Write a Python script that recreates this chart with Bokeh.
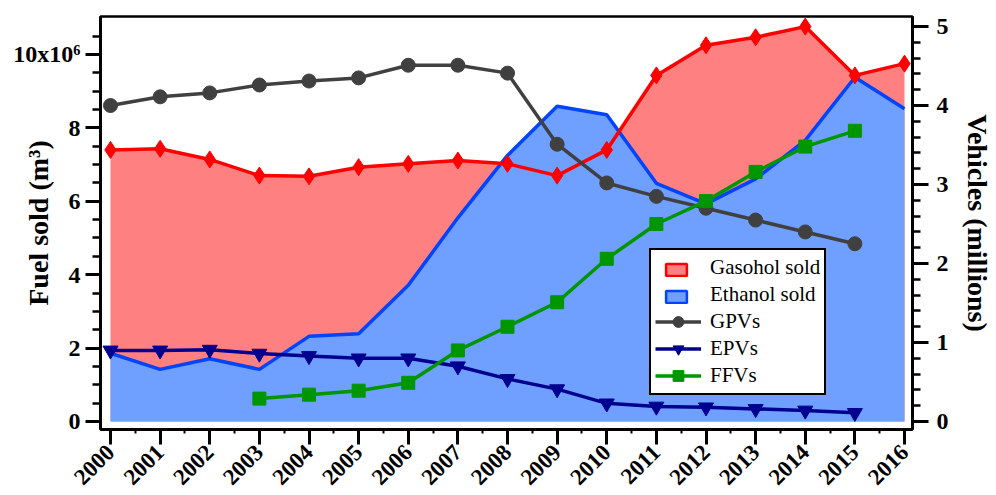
import math
from bokeh.plotting import figure
from bokeh.models import (Range1d, LinearAxis, FixedTicker, Legend, LegendItem,
                          ColumnDataSource)
from bokeh.embed import file_html
from bokeh.resources import INLINE
from bokeh.core.properties import value

# ---------------- data ----------------
years = list(range(2000, 2017))
# fuel sold, in millions of m3 (axis reads x10^6)
gasohol = [7.40, 7.43, 7.14, 6.70, 6.68, 6.93, 7.02, 7.11, 7.02, 6.70,
           7.40, 9.43, 10.25, 10.47, 10.76, 9.43, 9.75]
ethanol = [1.86, 1.42, 1.71, 1.42, 2.32, 2.39, 3.71, 5.55, 7.25, 8.59,
           8.36, 6.49, 5.93, 6.61, 7.66, 9.38, 8.52]

veh_years = list(range(2000, 2016))
# vehicles, millions
gpv = [4.00, 4.11, 4.16, 4.26, 4.31, 4.35, 4.51, 4.51, 4.41, 3.51,
       3.02, 2.85, 2.70, 2.55, 2.40, 2.25]
epv = [0.90, 0.90, 0.91, 0.86, 0.83, 0.80, 0.80, 0.70, 0.54, 0.41,
       0.23, 0.19, 0.18, 0.16, 0.14, 0.11]
ffv_years = list(range(2003, 2016))
ffv = [0.29, 0.34, 0.39, 0.49, 0.90, 1.20, 1.51, 2.06, 2.50, 2.79,
       3.16, 3.48, 3.68]

left_ticks = [0, 2, 4, 6, 8, 10]
right_ticks = [0, 1, 2, 3, 4, 5]

FONT = "Liberation Serif"

# ---------------- figure ----------------
p = figure(width=996, height=495, output_backend="svg", toolbar_location=None,
           x_range=Range1d(1999.7985, 2016.161), y_range=Range1d(-0.218, 11.035),
           min_border_left=100, min_border_right=84, min_border_top=16,
           min_border_bottom=66)
p.extra_y_ranges = {"veh": Range1d(-0.101, 5.127)}
p.xgrid.visible = False
p.ygrid.visible = False
p.outline_line_color = "black"
p.outline_line_width = 2.5
p.outline_line_alpha = 1
p.background_fill_color = "white"
p.border_fill_color = "white"


def style_axis(ax, fs, tick_out=15, minor_out=8):
    ax.axis_line_width = 3
    ax.axis_line_color = "black"
    ax.major_tick_line_width = 3
    ax.minor_tick_line_width = 2.5
    ax.major_tick_in = 0
    ax.major_tick_out = tick_out
    ax.minor_tick_in = 0
    ax.minor_tick_out = minor_out
    ax.major_label_text_font = FONT
    ax.major_label_text_font_style = "bold"
    ax.major_label_text_font_size = fs
    ax.major_label_text_color = "black"


# bottom axis
xax = p.xaxis[0]
xax.ticker = FixedTicker(ticks=years, minor_ticks=[y + 0.5 for y in years[:-1]])
style_axis(xax, "23px", tick_out=15, minor_out=4)
xax.minor_tick_line_width = 2
xax.major_label_orientation = math.pi / 4
xax.major_label_standoff = 4

# left axis (with its title placed close, as in the original)
yax = p.yaxis[0]
yax.ticker = FixedTicker(ticks=left_ticks, minor_ticks=[0.5 * i for i in range(22)])
yax.major_label_overrides = {10: "10x10\u2076"}
style_axis(yax, "24px", tick_out=15, minor_out=8)
yax.major_label_standoff = 5
yax.axis_label = "Fuel sold (m\u00b3)"
yax.axis_label_text_font = FONT
yax.axis_label_text_font_style = "bold"
yax.axis_label_text_font_size = "28px"
yax.axis_label_text_color = "black"
yax.axis_label_standoff = -44

# right axis
rax = LinearAxis(y_range_name="veh",
                 ticker=FixedTicker(ticks=right_ticks, minor_ticks=[0.2 * i for i in range(26)]),
                 axis_label="Vehicles (millions)")
style_axis(rax, "24px", tick_out=16, minor_out=8)
rax.major_label_standoff = 8
rax.axis_label_text_font = FONT
rax.axis_label_text_font_style = "bold"
rax.axis_label_text_font_size = "28px"
rax.axis_label_text_color = "black"
rax.axis_label_standoff = 10
p.add_layout(rax, "right")

# ---------------- glyphs ----------------
src = ColumnDataSource(dict(x=years, gas=gasohol, eth=ethanol, zero=[0] * len(years)))
p.varea(x="x", y1="zero", y2="gas", source=src, fill_color="#ff8080")
p.varea(x="x", y1="zero", y2="eth", source=src, fill_color="#6f9fff")
p.line(x="x", y="eth", source=src, line_color="#0044ff", line_width=3.5)
p.line(x="x", y="gas", source=src, line_color="#ff0000", line_width=3.5)
p.scatter(x="x", y="gas", source=src, marker="diamond", size=17,
          fill_color="#ff0000", line_color="#ff0000")

gpv_l = p.line(veh_years, gpv, y_range_name="veh", line_color="#404040", line_width=3.5)
gpv_s = p.scatter(veh_years, gpv, y_range_name="veh", marker="circle", size=14,
                  fill_color="#404040", line_color="#404040")
epv_l = p.line(veh_years, epv, y_range_name="veh", line_color="#000090", line_width=3.5)
epv_s = p.scatter(veh_years, epv, y_range_name="veh", marker="inverted_triangle", size=15,
                  fill_color="#000090", line_color="#000090")
ffv_l = p.line(ffv_years, ffv, y_range_name="veh", line_color="#009600", line_width=3.5)
ffv_s = p.scatter(ffv_years, ffv, y_range_name="veh", marker="square", size=13,
                  fill_color="#009600", line_color="#009600")

# legend-only renderers (hidden in the plot, used for the legend swatches)
inv = p.quad(left="left", right="right", top="top", bottom="bottom",
             source=ColumnDataSource(dict(left=[], right=[], top=[], bottom=[])),
             fill_alpha=0, line_alpha=0)
pg = p.quad(left="x", right="x", top="gas", bottom="gas", source=src,
            fill_color="#ff8080", line_color="#ff0000", line_width=2.5, visible=False)
pe = p.quad(left="x", right="x", top="eth", bottom="eth", source=src,
            fill_color="#6f9fff", line_color="#0044ff", line_width=2.5, visible=False)

leg = Legend(items=[
    LegendItem(label=value("Gasohol sold"), renderers=[inv]),
    LegendItem(label=value("Ethanol sold"), renderers=[inv]),
    LegendItem(label=value("GPVs"), renderers=[gpv_l, gpv_s]),
    LegendItem(label=value("EPVs"), renderers=[epv_l, epv_s]),
    LegendItem(label=value("FFVs"), renderers=[ffv_l, ffv_s]),
], location=(549, 34), glyph_width=46, glyph_height=27, label_height=27,
    spacing=0, padding=4, margin=0, label_standoff=9,
    border_line_color="black", border_line_width=2, border_line_alpha=1,
    background_fill_color="white", background_fill_alpha=1,
    label_text_font=FONT, label_text_font_size="21px", label_text_color="black")
p.add_layout(leg, "center")

leg2 = Legend(items=[
    LegendItem(label=value(""), renderers=[pg]),
    LegendItem(label=value(""), renderers=[pe]),
], location=(563, 125), glyph_width=26, glyph_height=15, label_height=15,
    spacing=12, padding=0, margin=0, label_standoff=0,
    border_line_alpha=0, background_fill_alpha=0,
    label_text_font_size="1px")
p.add_layout(leg2, "center")

open("out.html", "w").write(file_html(p, INLINE))
